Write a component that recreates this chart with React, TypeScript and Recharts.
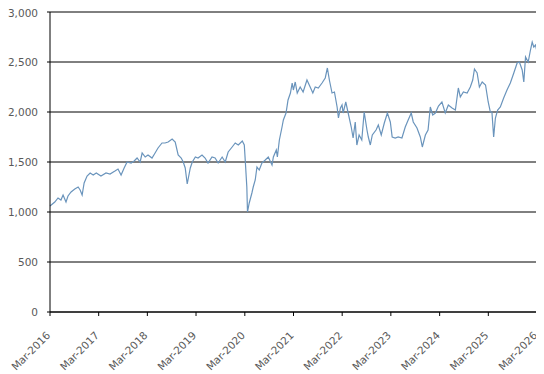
import React from "react"
import { LineChart, Line, XAxis, YAxis, CartesianGrid, ReferenceLine } from "recharts"

const dates = [
  "2016-03-01", "2016-04-06", "2016-04-30", "2016-05-22", "2016-06-07", "2016-06-29", "2016-07-14", "2016-08-06",
  "2016-09-03", "2016-09-28", "2016-10-13", "2016-10-28", "2016-11-12", "2016-12-04", "2016-12-27", "2017-01-19",
  "2017-02-11", "2017-03-18", "2017-04-25", "2017-05-25", "2017-07-01", "2017-07-24", "2017-08-16", "2017-09-08",
  "2017-09-30", "2017-10-30", "2017-11-22", "2017-12-14", "2018-01-06", "2018-01-21", "2018-02-13", "2018-03-06",
  "2018-04-05", "2018-04-28", "2018-05-20", "2018-06-19", "2018-07-12", "2018-08-04", "2018-09-03", "2018-09-26",
  "2018-10-18", "2018-11-10", "2018-11-25", "2018-12-10", "2018-12-25", "2019-01-17", "2019-02-01", "2019-02-24",
  "2019-03-16", "2019-04-15", "2019-05-08", "2019-05-30", "2019-06-29", "2019-07-22", "2019-08-14", "2019-09-13",
  "2019-10-06", "2019-10-28", "2019-11-27", "2019-12-20", "2020-01-12", "2020-02-11", "2020-02-26", "2020-03-04",
  "2020-03-16", "2020-03-21", "2020-04-03", "2020-04-23", "2020-05-03", "2020-05-18", "2020-05-31", "2020-06-17",
  "2020-07-07", "2020-08-01", "2020-08-24", "2020-09-21", "2020-10-01", "2020-10-23", "2020-10-31", "2020-11-15",
  "2020-12-05", "2020-12-15", "2021-01-04", "2021-01-19", "2021-02-06", "2021-02-19", "2021-02-28", "2021-03-14",
  "2021-03-29", "2021-04-20", "2021-05-12", "2021-06-10", "2021-07-04", "2021-07-24", "2021-08-11", "2021-09-03",
  "2021-10-01", "2021-10-25", "2021-11-10", "2021-11-25", "2021-12-15", "2022-01-02", "2022-01-22", "2022-02-01",
  "2022-02-16", "2022-02-28", "2022-03-08", "2022-03-28", "2022-04-15", "2022-05-08", "2022-05-22", "2022-06-07",
  "2022-06-19", "2022-07-06", "2022-07-26", "2022-08-13", "2022-09-03", "2022-09-13", "2022-09-28", "2022-10-13",
  "2022-11-10", "2022-11-27", "2022-12-19", "2023-01-11", "2023-02-03", "2023-02-25", "2023-03-11", "2023-04-03",
  "2023-04-25", "2023-05-23", "2023-06-17", "2023-07-09", "2023-08-01", "2023-08-16", "2023-09-13", "2023-10-08",
  "2023-10-23", "2023-11-15", "2023-12-05", "2023-12-22", "2024-01-09", "2024-01-29", "2024-02-21", "2024-03-18",
  "2024-04-12", "2024-05-05", "2024-06-02", "2024-06-27", "2024-07-19", "2024-08-03", "2024-08-26", "2024-09-23",
  "2024-10-17", "2024-11-04", "2024-11-17", "2024-12-07", "2024-12-24", "2025-01-14", "2025-02-08", "2025-02-28",
  "2025-03-16", "2025-03-28", "2025-04-10", "2025-04-23", "2025-05-10", "2025-05-30", "2025-06-24", "2025-07-19",
  "2025-08-13", "2025-09-08", "2025-10-03", "2025-10-20", "2025-11-10", "2025-11-22", "2025-12-05", "2025-12-25",
  "2026-01-11", "2026-01-24", "2026-02-05", "2026-02-18", "2026-02-26",
]

const index = [
  1060, 1100, 1140, 1120, 1170, 1100, 1160, 1200,
  1230, 1250, 1220, 1170, 1290, 1360, 1390, 1370,
  1390, 1360, 1390, 1380, 1410, 1430, 1370, 1440,
  1500, 1490, 1510, 1540, 1500, 1590, 1550, 1570,
  1540, 1590, 1640, 1690, 1690, 1700, 1730, 1700,
  1570, 1540, 1500, 1440, 1280, 1440, 1500, 1550,
  1540, 1570, 1540, 1490, 1550, 1540, 1490, 1550,
  1500, 1600, 1650, 1690, 1670, 1710, 1670, 1520,
  1250, 1000, 1090, 1190, 1250, 1320, 1450, 1420,
  1490, 1520, 1550, 1470, 1550, 1620, 1550, 1720,
  1850, 1920, 1990, 2120, 2190, 2290, 2220, 2300,
  2190, 2250, 2200, 2320, 2250, 2190, 2250, 2240,
  2290, 2340, 2440, 2320, 2190, 2200, 2050, 1940,
  2040, 2070, 1990, 2100, 1990, 1850, 1740, 1900,
  1670, 1770, 1720, 2000, 1820, 1750, 1670, 1770,
  1820, 1870, 1770, 1890, 1990, 1900, 1750, 1740,
  1750, 1740, 1850, 1920, 1990, 1900, 1840, 1750,
  1650, 1770, 1820, 2050, 1970, 1990, 2060, 2100,
  1990, 2070, 2040, 2020, 2240, 2150, 2200, 2190,
  2250, 2320, 2430, 2390, 2250, 2300, 2270, 2100,
  2000, 2000, 1750, 1940, 2020, 2050, 2140, 2220,
  2290, 2390, 2490, 2500, 2420, 2300, 2550, 2500,
  2620, 2700, 2650, 2670, 2620,
]

const tickYears = [2016, 2017, 2018, 2019, 2020, 2021, 2022, 2023, 2024, 2025, 2026]
const yTicks = [0, 500, 1000, 1500, 2000, 2500, 3000]

const data = dates.map((d, i) => ({ t: Date.parse(d), v: index[i] }))
const xTicks = tickYears.map((y) => Date.UTC(y, 2, 1))

const font = "'DejaVu Sans', sans-serif"

function DateTick({ x, y, payload }: any) {
  const yr = new Date(payload.value).getUTCFullYear()
  const ax = x + 1
  const ay = y + 18
  return (
    <text
      x={ax}
      y={ay}
      transform={`rotate(-45, ${ax}, ${ay})`}
      textAnchor="end"
      fontSize={10.5}
      fontFamily={font}
      fill="#595959"
    >
      {"Mar-" + yr}
    </text>
  )
}

export default function App() {
  return (
    <div style={{ width: 536, height: 366 }}>
      <LineChart width={536} height={366} data={data} margin={{ top: 4, right: 7, bottom: 0, left: 0 }}>
        <CartesianGrid vertical={false} stroke="#000" />
        <XAxis
          dataKey="t"
          type="number"
          domain={[xTicks[0], xTicks[xTicks.length - 1]]}
          ticks={xTicks}
          tick={<DateTick />}
          height={62}
          tickSize={4}
          axisLine={{ stroke: "#000" }}
          tickLine={{ stroke: "#000" }}
          interval={0}
        />
        <YAxis
          domain={[0, 3000]}
          ticks={yTicks}
          width={42}
          tickSize={3}
          tickMargin={9}
          axisLine={{ stroke: "#000" }}
          tickLine={{ stroke: "#000" }}
          tick={{ fontSize: 10.5, fontFamily: font, fill: "#595959" }}
          tickFormatter={(v) => v.toLocaleString("en-US")}
        />
        <ReferenceLine x={xTicks[xTicks.length - 1]} stroke="#000" />
        <Line
          type="linear"
          dataKey="v"
          stroke="#6a94bc"
          strokeWidth={1.2}
          dot={false}
          isAnimationActive={false}
        />
      </LineChart>
    </div>
  )
}
